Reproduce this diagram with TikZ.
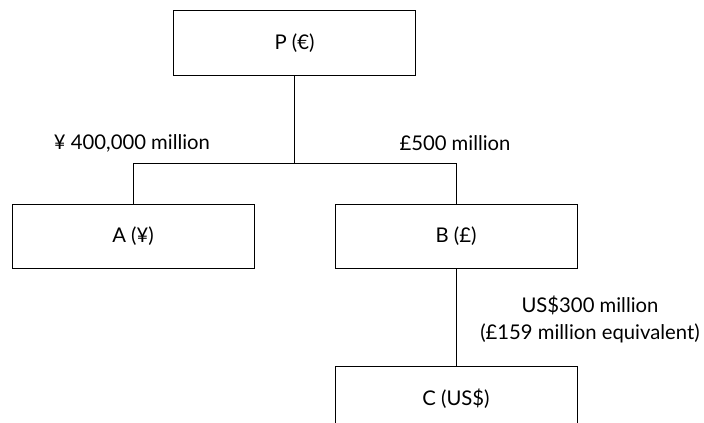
\documentclass[tikz,border=0pt]{standalone}
\usepackage{fontspec}
\setmainfont{Lato}

\tikzset{every picture/.style={line width=0.75pt}}
\tikzset{
	entity/.style={draw, rectangle, minimum width=181.5pt, minimum height=48.5pt, inner sep=0pt, font=\fontsize{15.2}{18}\selectfont},
	holding/.style={font=\fontsize{15.2}{20.25}\selectfont, align=center}}

\begin{document}
\begin{tikzpicture}[x=0.75pt,y=0.75pt,yscale=-1,xscale=1]
	\clip (0,0) rectangle (704,423); %set diagram to 704 x 423

	%Shape: Rectangle [id:parent]
	\node [entity] (P) at (294.5,43) {P (€)};
	%Shape: Rectangle [id:subA]
	\node [entity] (A) at (133,236.5) {A (¥)};
	%Shape: Rectangle [id:subB]
	\node [entity] (B) at (456,236.5) {B (£)};
	%Shape: Rectangle [id:subC]
	\node [entity] (C) at (456,398.5) {C (US\$)};

	%Straight Lines
	\coordinate (split) at (294.5,163.5);
	\draw (P.south) -- (split);
	\draw (A.north) -- (A.north |- split) -- (B.north |- split) -- (B.north);
	\draw (B.south) -- (C.north);

	% Text Node
	\node [holding] (investA) at (132,143) {¥ 400,000 million};
	% Text Node
	\node [holding] (investB) at (455,143) {£500 million};
	% Text Node
	\node [holding] (investC) at (590,319.5) {US\$300 million\\(£159 million equivalent)};

\end{tikzpicture}
\end{document}
